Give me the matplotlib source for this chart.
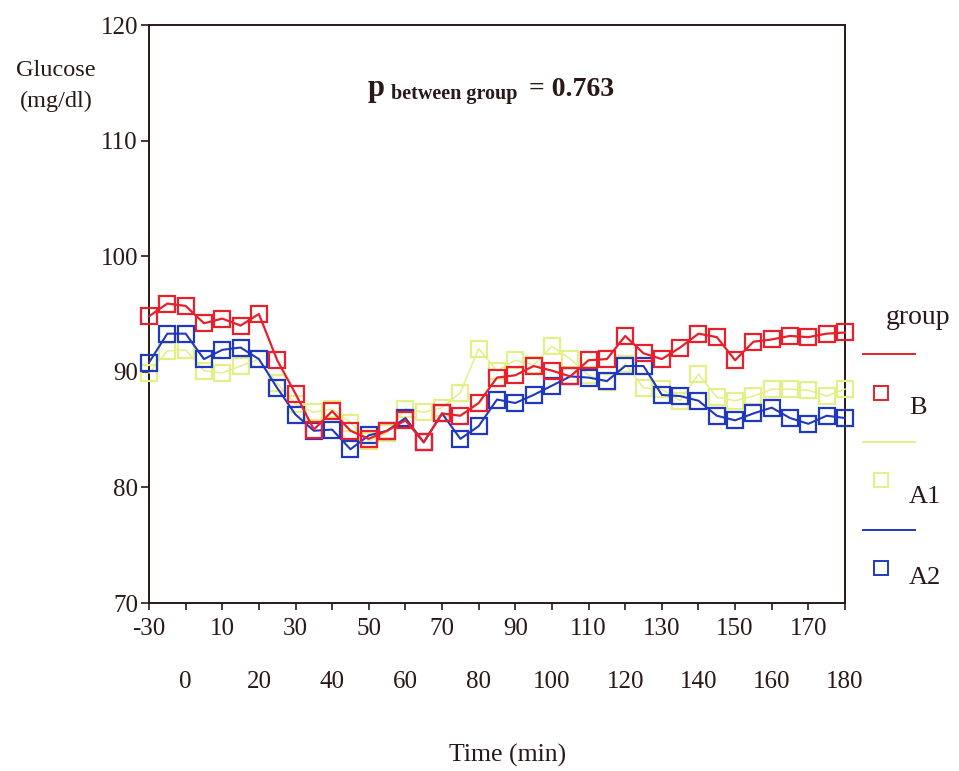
import matplotlib
matplotlib.use("Agg")
import matplotlib.pyplot as plt
from matplotlib.lines import Line2D

# ---------------------------------------------------------------
# data
# ---------------------------------------------------------------
TIMES = [-30, -15, 0, 5, 10, 15, 20, 25, 30, 35, 40, 45, 50, 55, 60, 65,
         70, 75, 80, 85, 90, 95, 100, 105, 110, 115, 120, 125, 130, 135,
         140, 145, 150, 155, 160, 165, 170, 175, 180]

B = [94.8, 95.9, 95.7, 94.2, 94.6, 94.0, 95.0, 91.0, 88.1, 85.0,
     86.6, 84.9, 84.2, 84.9, 85.8, 83.9, 86.4, 86.2, 87.3, 89.5,
     89.7, 90.5, 90.1, 89.6, 91.0, 91.1, 93.1, 91.6, 91.1, 92.1,
     93.3, 93.0, 91.0, 92.6, 92.8, 93.1, 93.0, 93.3, 93.4]

A1 = [89.9, 91.8, 91.9, 90.1, 89.9, 90.5, 91.1, 89.0, 87.2, 86.5,
      86.8, 85.6, 84.0, 84.7, 86.8, 86.5, 86.9, 88.2, 92.0, 90.1,
      91.0, 90.6, 92.2, 91.1, 89.7, 89.1, 90.7, 88.6, 88.5, 87.5,
      89.8, 87.8, 87.5, 87.9, 88.5, 88.5, 88.4, 87.9, 88.5]

A2 = [90.8, 93.3, 93.3, 91.1, 91.9, 92.1, 91.1, 88.6, 86.3, 84.9,
      85.0, 83.3, 84.5, 84.9, 86.0, 83.9, 86.4, 84.2, 85.3, 87.6,
      87.3, 88.0, 88.8, 89.6, 89.5, 89.2, 90.5, 90.5, 88.0, 87.9,
      87.5, 86.2, 85.8, 86.4, 86.9, 86.0, 85.5, 86.2, 86.0]

GROUPS = ["B", "A1", "A2"]
TOP_LABELS = [-30, 10, 30, 50, 70, 90, 110, 130, 150, 170]
BOTTOM_LABELS = [0, 20, 40, 60, 80, 100, 120, 140, 160, 180]
Y_TICKS = [70, 80, 90, 100, 110, 120]

# ---------------------------------------------------------------
# style
# ---------------------------------------------------------------
FONT = "Liberation Serif"
COLORS = {"B": "#e8202c", "A1": "#e4ef8a", "A2": "#2038c0"}
LINEW = {"B": 1.6, "A1": 1.1, "A2": 1.5}
INK = "#2a1818"

fig = plt.figure(figsize=(9.59, 7.71), dpi=100)
fig.patch.set_facecolor("white")
W, H = 959.0, 771.0
ax = fig.add_axes([149 / W, 1 - 603 / H, (845 - 149) / W, (603 - 25) / H])

xs = list(range(len(TIMES)))
series = {"B": B, "A1": A1, "A2": A2}
for name in ["A1", "A2", "B"]:
    ax.plot(xs, series[name], color=COLORS[name], lw=LINEW[name],
            marker="s", markersize=11, markerfacecolor="none",
            markeredgewidth=1.6, clip_on=False, zorder=3)

ax.set_xlim(0, len(TIMES) - 1)
ax.set_ylim(70, 120)

# categorical x axis, labels alternating on two rows
top_pos = [TIMES.index(t) for t in TOP_LABELS]
bot_pos = [TIMES.index(t) for t in BOTTOM_LABELS]
ax.set_xticks(top_pos)
ax.set_xticklabels([str(t) for t in TOP_LABELS])
ax.set_xticks(bot_pos, minor=True)
ax.set_xticklabels([str(t) for t in BOTTOM_LABELS], minor=True)
ax.tick_params(axis="x", which="major", length=5, width=1.2, pad=6,
               labelsize=18, color=INK, labelcolor=INK)
ax.tick_params(axis="x", which="minor", length=5, width=1.2, pad=44,
               labelsize=18, color=INK, labelcolor=INK)

ax.set_yticks(Y_TICKS)
ax.set_yticklabels([str(v) for v in Y_TICKS])
ax.tick_params(axis="y", length=6, width=1.2, pad=2, labelsize=18,
               color=INK, labelcolor=INK)

for lbl in ax.get_xticklabels(which="both") + ax.get_yticklabels():
    lbl.set_fontfamily(FONT)

for sp in ax.spines.values():
    sp.set_color(INK)
    sp.set_linewidth(1.4)

# axis titles
fig.text(56 / W, 1 - 70 / H, "Glucose", ha="center", va="center",
         fontsize=17.5, family=FONT, color=INK)
fig.text(56 / W, 1 - 101 / H, "(mg/dl)", ha="center", va="center",
         fontsize=17.5, family=FONT, color=INK)
fig.text(508 / W, 1 - 755 / H, "Time (min)", ha="center", va="center",
         fontsize=18.5, family=FONT, color=INK)

# p value annotation
fig.text(368 / W, 1 - 96 / H, "p", ha="left", va="baseline",
         fontsize=22, fontweight="bold", family=FONT, color=INK)
fig.text(391 / W, 1 - 99 / H, "between group", ha="left", va="baseline",
         fontsize=14.5, fontweight="bold", family=FONT, color=INK)
fig.text(529 / W, 1 - 96 / H, "= 0.763", ha="left", va="baseline",
         fontsize=20, fontweight="bold", family=FONT, color=INK)

# legend (SPSS style: line row, then marker + label row)
fig.text(918 / W, 1 - 318 / H, "group", ha="center", va="center",
         fontsize=20, family=FONT, color=INK)
legend_rows = [("B", 354, 393, 408), ("A1", 442, 480, 497), ("A2", 530, 568, 578)]
for name, y_line, y_mark, y_text in legend_rows:
    fig.add_artist(Line2D([863 / W, 915 / W], [1 - y_line / H] * 2,
                          transform=fig.transFigure, color=COLORS[name],
                          lw=1.4))
    fig.add_artist(Line2D([881 / W], [1 - y_mark / H], transform=fig.transFigure,
                          marker="s", markersize=10, markerfacecolor="none",
                          markeredgecolor=COLORS[name], markeredgewidth=1.4,
                          linestyle="none"))
    fig.text(909 / W, 1 - y_text / H, name, ha="left", va="center",
             fontsize=19, family=FONT, color=INK)

fig.savefig("out.png", dpi=100, facecolor="white")
